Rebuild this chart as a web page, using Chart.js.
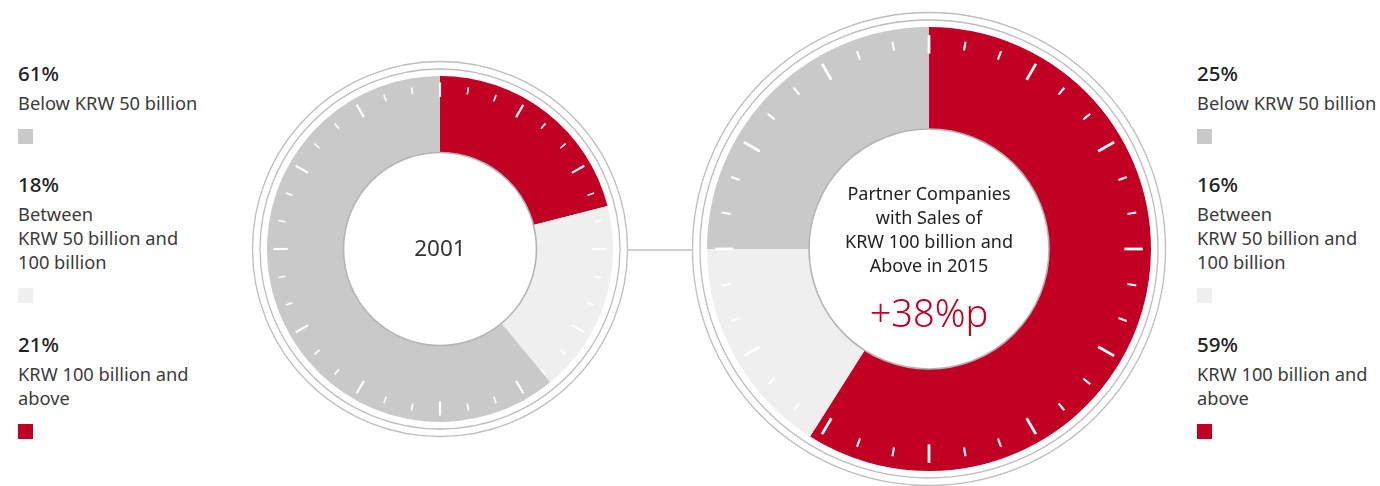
<!DOCTYPE html>
<html>
<head>
<meta charset="utf-8">
<script src="https://cdn.jsdelivr.net/npm/chart.js@4.4.1/dist/chart.umd.min.js"></script>
<style>
  html, body { margin: 0; padding: 0; background: #fff; }
  body { width: 1380px; height: 486px; position: relative; overflow: hidden;
         font-family: "Noto Sans", "Open Sans", sans-serif; color: #333; }
  canvas { position: absolute; }
  #c2001 { left: 240px; top: 49px; }
  #c2015 { left: 679px; top: -1px; }
  .legend { position: absolute; top: 59.7px; }
  .legend .pct { font-size: 20.5px; line-height: 26px; font-weight: 500; color: #222; height: 26px; }
  .legend .lbl { margin-top: 5px; font-size: 18.3px; line-height: 24px; color: #3b3b3b; }
  .legend .sw  { margin-top: 14px; width: 15px; height: 15px; }
  .legend .entry + .entry { margin-top: 27.5px; }
  .center { position: absolute; text-align: center; }
  #t2001 { left: 340px; width: 200px; top: 234px; font-size: 22.5px; line-height: 28px; color: #333; }
  #t2015 { left: 789px; width: 280px; top: 181px; font-size: 18px; line-height: 24px; color: #222; }
  #t2015 .big { margin-top: 12px; font-size: 38px; line-height: 46px; color: #c10023; font-weight: 300; }
  #link { position: absolute; left: 627px; top: 249px; width: 66px; height: 2px; background: #cdcdcd; }
</style>
</head>
<body>
<canvas id="c2001" width="400" height="400"></canvas>
<canvas id="c2015" width="500" height="500"></canvas>
<div id="link"></div>
<div class="center" id="t2001"></div>
<div class="center" id="t2015"></div>
<div class="legend" id="leg2001" style="left:18px"></div>
<div class="legend" id="leg2015" style="left:1197px"></div>

<script>
// Sales brackets of partner companies (clockwise from 12 o'clock)
const categories = [
  ['KRW 100 billion and', 'above'],
  ['Between', 'KRW 50 billion and', '100 billion'],
  ['Below KRW 50 billion']
];
const share2001 = [21, 18, 61];
const share2015 = [59, 16, 25];
const sliceColors = ['#c10023', '#efefef', '#c8c9c8'];

const label2001 = ['2001'];
const label2015 = ['Partner Companies', 'with Sales of', 'KRW 100 billion and', 'Above in 2015'];
const changeText = '+38%p';

// Dial decoration: white tick marks on the ring, an edge line on the hole, two outer rings
const dialPlugin = {
  id: 'dial',
  afterDatasetsDraw(chart) {
    const arc = chart.getDatasetMeta(0).data[0];
    const { x, y, outerRadius: R, innerRadius: r } =
      arc.getProps(['x', 'y', 'outerRadius', 'innerRadius'], true);
    const ctx = chart.ctx;
    ctx.save();
    ctx.lineCap = 'butt';
    for (let i = 0; i < 36; i++) {
      const a = -Math.PI / 2 + i * Math.PI / 18;
      const major = i % 3 === 0;
      const r0 = R * (major ? 0.880 : 0.908);
      const r1 = R * (major ? 0.963 : 0.948);
      ctx.beginPath();
      ctx.moveTo(x + Math.cos(a) * r0, y + Math.sin(a) * r0);
      ctx.lineTo(x + Math.cos(a) * r1, y + Math.sin(a) * r1);
      ctx.strokeStyle = '#ffffff';
      ctx.lineWidth = major ? R * 0.0125 : R * 0.0095;
      ctx.stroke();
    }
    ctx.beginPath();
    ctx.arc(x, y, r, 0, Math.PI * 2);
    ctx.strokeStyle = '#b4b4b4';
    ctx.lineWidth = 1.6;
    ctx.stroke();
    [7, 14.5].forEach(d => {
      ctx.beginPath();
      ctx.arc(x, y, R + d, 0, Math.PI * 2);
      ctx.strokeStyle = '#bdbdbd';
      ctx.lineWidth = 1.3;
      ctx.stroke();
    });
    ctx.restore();
  }
};

function makeDial(id, values, radius, hole) {
  return new Chart(document.getElementById(id), {
    type: 'doughnut',
    data: {
      labels: categories.map(c => c.join(' ')),
      datasets: [{ data: values, backgroundColor: sliceColors, borderWidth: 0, hoverOffset: 0 }]
    },
    options: {
      responsive: false,
      animation: false,
      radius: radius,
      cutout: (hole / radius * 100) + '%',
      events: [],
      plugins: { legend: { display: false }, tooltip: { enabled: false } }
    },
    plugins: [dialPlugin]
  });
}

makeDial('c2001', share2001, 173, 96.5);
makeDial('c2015', share2015, 222, 120);

// Centre captions
document.getElementById('t2001').textContent = label2001[0];
const t15 = document.getElementById('t2015');
label2015.forEach(s => { const d = document.createElement('div'); d.textContent = s; t15.appendChild(d); });
const big = document.createElement('div'); big.className = 'big'; big.textContent = changeText; t15.appendChild(big);

// Side legends, listed from the largest-bracket slice backwards
function buildLegend(id, values) {
  const box = document.getElementById(id);
  [2, 1, 0].forEach(i => {
    const e = document.createElement('div'); e.className = 'entry';
    const p = document.createElement('div'); p.className = 'pct'; p.textContent = values[i] + '%';
    const l = document.createElement('div'); l.className = 'lbl';
    categories[i].forEach(s => { const d = document.createElement('div'); d.textContent = s; l.appendChild(d); });
    const sw = document.createElement('div'); sw.className = 'sw'; sw.style.background = sliceColors[i];
    e.appendChild(p); e.appendChild(l); e.appendChild(sw);
    box.appendChild(e);
  });
}
buildLegend('leg2001', share2001);
buildLegend('leg2015', share2015);
</script>
</body>
</html>
